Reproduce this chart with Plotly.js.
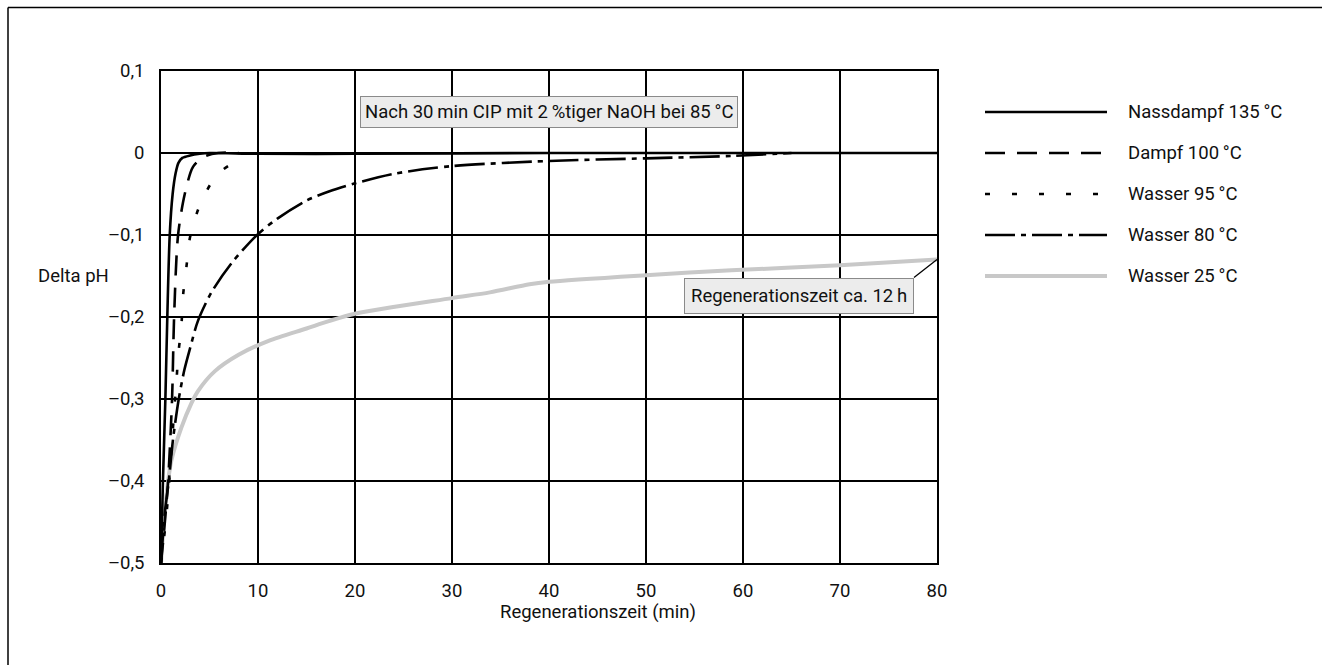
<!DOCTYPE html>
<html>
<head>
<meta charset="utf-8">
<script src="https://cdn.plot.ly/plotly-3.0.1.min.js"></script>
<style>
  html, body { margin: 0; padding: 0; background: #fff; }
  #chart { width: 1322px; height: 665px; }
</style>
</head>
<body>
<div id="chart"></div>
<script>
// ---- data ----
const seriesNames = ["Nassdampf 135\u2009°C", "Dampf 100\u2009°C", "Wasser 95\u2009°C", "Wasser 80\u2009°C", "Wasser 25\u2009°C"];

const nassdampfX = [0, 0.2, 0.45, 0.65, 0.9, 1.2, 1.5, 1.8, 2.2, 3, 4, 5, 10, 20, 40, 60, 80];
const nassdampfY = [-0.5, -0.4, -0.3, -0.2, -0.1, -0.05, -0.025, -0.012, -0.006, -0.003, -0.001, 0, -0.001, -0.001, 0, 0, 0];

const dampfX = [0, 0.4, 0.73, 1.14, 1.35, 1.76, 2.45, 3.3, 4.35, 5.9, 8];
const dampfY = [-0.5, -0.45, -0.4, -0.3, -0.2, -0.1, -0.05, -0.017, -0.005, 0, 0];

const wasser95X = [0, 0.4, 0.73, 1.35, 1.59, 1.76, 2.1, 2.28, 2.63, 2.97, 3.83, 5.05, 6.2, 7.5];
const wasser95Y = [-0.5, -0.46, -0.418, -0.316, -0.28, -0.248, -0.211, -0.173, -0.138, -0.104, -0.069, -0.039, -0.022, -0.012];

const wasser80X = [0, 0.38, 0.8, 1.24, 1.83, 2.4, 3.0, 3.8, 5.2, 7.3, 9.9, 12, 15, 17.3, 20, 24.2, 30, 40, 50, 58.8, 65];
const wasser80Y = [-0.5, -0.44, -0.4, -0.349, -0.3, -0.265, -0.238, -0.205, -0.17, -0.134, -0.1, -0.08, -0.058, -0.047, -0.037, -0.025, -0.016, -0.0097, -0.0065, -0.0036, 0];

const wasser25X = [0, 0.3, 0.73, 1.07, 2.1, 3.14, 3.83, 5.56, 8, 11.1, 15, 17.3, 20, 30, 33.9, 38, 40, 50, 58.8, 70, 80];
const wasser25Y = [-0.5, -0.45, -0.4, -0.375, -0.335, -0.305, -0.29, -0.266, -0.246, -0.229, -0.214, -0.205, -0.196, -0.177, -0.17, -0.16, -0.157, -0.149, -0.143, -0.137, -0.13];

const yTickVals = [-0.5, -0.4, -0.3, -0.2, -0.1, 0, 0.1];
const yTickText = ["\u20130,5", "\u20130,4", "\u20130,3", "\u20130,2", "\u20130,1", "0", "0,1"];
const xTickVals = [0, 10, 20, 30, 40, 50, 60, 70, 80];

const noteCip = "Nach 30\u2009min CIP mit 2\u2009%tiger NaOH bei 85\u2009°C";
const noteRegen = "Regenerationszeit ca. 12\u2009h";
const xTitle = "Regenerationszeit (min)";
const yTitle = "Delta pH";

// ---- styles ----
const FONT = "Roboto, 'DejaVu Sans Condensed', sans-serif";
const FS = 18.5;
const styles = [
  {color: "#000", width: 2.6, dash: "solid"},
  {color: "#000", width: 2.6, dash: "20px,12px"},
  {color: "#000", width: 2.6, dash: "5px,22px"},
  {color: "#000", width: 2.6, dash: "30px,6px,5px,6px"},
  {color: "#c8c8c8", width: 4, dash: "solid"}
];
const xs = [nassdampfX, dampfX, wasser95X, wasser80X, wasser25X];
const ys = [nassdampfY, dampfY, wasser95Y, wasser80Y, wasser25Y];

const traces = [];
[4, 3, 2, 1, 0].forEach(i => {
  traces.push({
    x: xs[i], y: ys[i], type: "scatter", mode: "lines",
    line: {color: styles[i].color, width: styles[i].width, dash: styles[i].dash, shape: "spline", smoothing: 0.8},
    name: seriesNames[i], showlegend: false, hoverinfo: "skip"
  });
});

// legend built as sample lines on a side axis
const legendRows = [0, 1, 2, 3, 4];
legendRows.forEach(i => {
  traces.push({
    x: [0, 1], y: [i, i], xaxis: "x2", yaxis: "y2", type: "scatter", mode: "lines",
    line: {color: styles[i].color, width: i === 4 ? 4 : 2.6, dash: styles[i].dash},
    showlegend: false, hoverinfo: "skip"
  });
});

const W = 1322, H = 665, L = 161, R = 10, T = 71, B = 102;
const pw = W - L - R, ph = H - T - B;
const px = v => (v - L) / pw;
const py = v => (H - B - v) / ph;
const tf = {family: FONT, size: FS, color: "#111"};

const annotations = [
  {x: 40, y: 0.05, xref: "x", yref: "y", text: noteCip, showarrow: false,
   font: tf, bgcolor: "#ececec", bordercolor: "#8a8a8a", borderwidth: 1, borderpad: 4},
  {x: 80, y: -0.13, xref: "x", yref: "y", text: noteRegen, showarrow: true, arrowhead: 0,
   arrowwidth: 1.3, arrowcolor: "#000", ax: -23, ay: 18, xanchor: "right", yanchor: "top",
   font: tf, bgcolor: "#ececec", bordercolor: "#8a8a8a", borderwidth: 1, borderpad: 6},
  {x: px(36), y: py(276), xref: "paper", yref: "paper", xanchor: "left", yanchor: "middle",
   text: yTitle, showarrow: false, font: tf},
  {x: px(598), y: py(612), xref: "paper", yref: "paper", xanchor: "center", yanchor: "middle",
   text: xTitle, showarrow: false, font: tf}
];
legendRows.forEach(i => {
  annotations.push({x: 1, y: i, xref: "x2", yref: "y2", xanchor: "left", yanchor: "middle",
    xshift: 19, text: seriesNames[i], showarrow: false, font: tf});
});

const layout = {
  width: W, height: H,
  margin: {l: L, r: R, t: T, b: B, pad: 0},
  paper_bgcolor: "#fff", plot_bgcolor: "#fff",
  font: tf,
  showlegend: false,
  xaxis: {
    domain: [0, 776 / pw], range: [0, 80], tickvals: xTickVals,
    showgrid: true, gridcolor: "#000", gridwidth: 1.8, zeroline: false,
    showline: true, linecolor: "#000", linewidth: 1.8, mirror: true,
    ticks: "", ticklabelstandoff: 10, tickfont: tf
  },
  yaxis: {
    range: [-0.5, 0.1], tickvals: yTickVals, ticktext: yTickText,
    showgrid: true, gridcolor: "#000", gridwidth: 1.8, zeroline: false,
    showline: true, linecolor: "#000", linewidth: 1.8, mirror: true,
    ticks: "", ticklabelstandoff: 11, tickfont: tf
  },
  xaxis2: {domain: [px(985), px(1107)], range: [0, 1], anchor: "y2", visible: false, fixedrange: true},
  yaxis2: {domain: [0, 1], range: [(563 - 112) / 41, (71 - 112) / 41], anchor: "x2", visible: false, fixedrange: true},
  annotations: annotations,
  shapes: [
    {type: "line", xref: "paper", yref: "paper", x0: px(8), x1: px(1322), y0: py(7.5), y1: py(7.5),
     line: {color: "#000", width: 1.5}},
    {type: "line", xref: "paper", yref: "paper", x0: px(8), x1: px(8), y0: py(7.5), y1: py(665),
     line: {color: "#000", width: 1.5}}
  ]
};

Plotly.newPlot("chart", traces, layout, {staticPlot: true, displayModeBar: false});
</script>
</body>
</html>
